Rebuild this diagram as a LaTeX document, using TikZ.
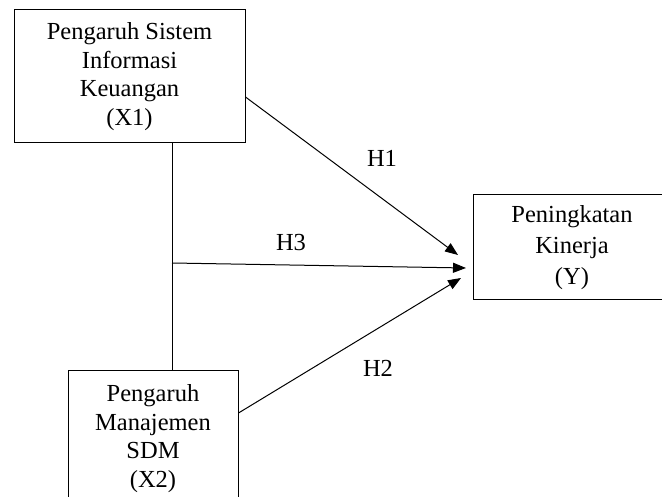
\documentclass[tikz,border=0pt]{standalone}
\usepackage{fontspec}
\setmainfont{Liberation Serif}
\usetikzlibrary{arrows.meta}

\tikzset{
    box/.style={draw, line width=1pt, align=center, inner sep=0pt,
        font=\fontsize{24.5}{28.5}\selectfont},
    lbl/.style={font=\fontsize{24.5}{28.5}\selectfont},
    hyp/.style={line width=1pt, -{Triangle[length=13pt,width=10pt]}}
}

\begin{document}
\begin{tikzpicture}[x=1pt, y=-1pt]
    \useasboundingbox (0,0) rectangle (662,497);

    \node[box, minimum width=231pt, minimum height=133pt] (x1) at (129.5,76.5)
        {Pengaruh Sistem\\Informasi\\Keuangan\\(X1)};
    \node[box, minimum width=170pt, minimum height=135pt] (x2) at (153,438.5)
        {Pengaruh\\Manajemen\\SDM\\(X2)};
    \node[box, minimum width=198pt, minimum height=105pt,
        font=\fontsize{24.5}{31}\selectfont] (y) at (572,247.5)
        {Peningkatan\\Kinerja\\(Y)};

    \coordinate (j) at (172,263);
    \coordinate (t1) at (458,255);
    \coordinate (t3) at (466,268);
    \coordinate (t2) at (461,278);

    \draw[line width=1pt] (j |- x1.south) -- (j |- x2.north);
    \draw[hyp] (x1.east |- 0,97) -- (t1);
    \draw[hyp] (j) -- (t3);
    \draw[hyp] (x2.east |- 0,413) -- (t2);

    \node[lbl] (h1) at (382,158) {H1};
    \node[lbl] (h3) at (291,243) {H3};
    \node[lbl] (h2) at (378,368) {H2};
\end{tikzpicture}
\end{document}
